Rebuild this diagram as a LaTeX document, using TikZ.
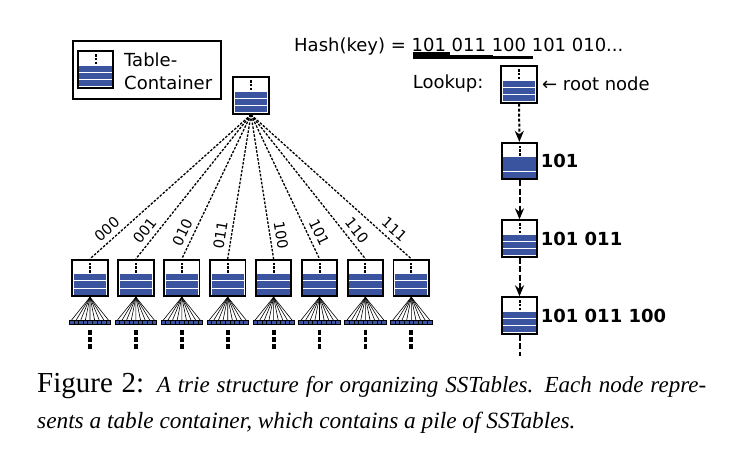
\documentclass[tikz,border=0pt]{standalone}
\usepackage{fontspec}
\setmainfont{DejaVu Sans}
\newfontfamily\capfont{Liberation Serif}
\usepackage{tikz}
\usetikzlibrary{positioning,calc,arrows.meta}

\definecolor{tblue}{RGB}{58,84,160}

\begin{document}
\begin{tikzpicture}[x=1pt,y=-1pt]
        \tikzset{
            tbl/.style={draw, line width=1.8pt, inner sep=0pt, outer sep=0.9pt, minimum width=35.5pt, minimum height=36.5pt, fill=white,
                path picture={
                    \fill[tblue] ([xshift=1.6pt,yshift=-14.5pt]path picture bounding box.north west) rectangle ([xshift=-1.6pt,yshift=1.5pt]path picture bounding box.south east);
                    \foreach \g in {#1} {
                        \draw[white, line width=1.1pt] ([yshift=-\g pt]path picture bounding box.north west) -- ([yshift=-\g pt]path picture bounding box.north east);
                    }
                    \draw[black, line width=2pt, dash pattern=on 2.4pt off 1.3pt] ([yshift=-3pt]path picture bounding box.north) -- ([yshift=-13.6pt]path picture bounding box.north);
                }},
            tbl/.default={21.1,28.3},
            txt/.style={font=\fontsize{18}{23}\selectfont},
            key/.style={font=\fontsize{18}{23}\selectfont\bfseries},
            bits/.style={font=\fontsize{14.5}{14.5}\selectfont, sloped, above=4.5pt, pos=0.85, inner sep=0.3pt},
            branch/.style={line width=1.3pt, dash pattern=on 2.5pt off 1.5pt},
            fan/.style={line width=0.6pt},
            leaf/.style={draw, line width=0.7pt, fill=tblue, inner sep=0pt, outer sep=0pt, minimum width=4.6pt, minimum height=4pt},
            more/.style={line width=3.8pt, dash pattern=on 5.5pt off 1.8pt},
            look/.style={line width=2pt, -{Stealth[length=11pt,width=9pt]}}
        }
        \useasboundingbox (0,0) rectangle (730,458);

        % legend
        \node[draw, line width=1.8pt, minimum width=148pt, minimum height=58pt] (legend) at (147,70) {};
        \node[tbl] (legtbl) at (95.5,69.5) {};
        \node[txt, anchor=west, align=left, inner sep=0pt] (legtxt) at (124,71) {Table-\\Container};

        % trie
        \node[tbl] (root) at (251,95.5) {};
        \foreach \i/\b in {0/000,1/001,2/010,3/011,4/100,5/101,6/110,7/111} {
            \pgfmathsetmacro{\cx}{90+45.9*\i}
            \node[tbl] (c\i) at (\cx,278) {};
            \draw[branch] (root.south) -- (c\i.north) node[bits] {\b};
            \foreach \j in {0,...,8} {
                \node[leaf] (l\i-\j) at (\cx-20.7+4.6*\j+2.3,322) {};
                \draw[fan] (c\i.south) -- (l\i-\j.north);
            }
            \draw[more] (\cx,329.5) -- (\cx,349);
        }

        % lookup path
        \node[txt, anchor=base west, inner sep=0pt] (hash) at (294,51) {Hash(key) = 101 011 100 101 010...};
        \fill (413,58.3) rectangle (450,52.3);
        \fill (413,58.5) rectangle (493,54.5);
        \fill (413,58.7) rectangle (533,56.2);
        \node[txt, anchor=east] (lookup) at (487,84) {Lookup:};
        \node[tbl] (r0) at (519,84.5) {};
        \node[txt, anchor=west, inner sep=0pt] (rootlbl) at (542,84) {← root node};
        \node[tbl=28.3] (r1) at (519.5,161) {};
        \node[tbl] (r2) at (519.5,238.5) {};
        \node[tbl] (r3) at (519.5,315.5) {};
        \node[key, anchor=west, inner sep=1pt] (k1) at ([xshift=1.5pt]r1.east) {101};
        \node[key, anchor=west, inner sep=1pt] (k2) at ([xshift=1.5pt]r2.east) {101 011};
        \node[key, anchor=west, inner sep=1pt] (k3) at ([xshift=1.5pt]r3.east) {101 011 100};
        \coordinate (rend) at (519.5,356);
        \draw[look, dash pattern=on 3pt off 2pt] (r0) -- (r1);
        \draw[look, dash pattern=on 6pt off 2.5pt] (r1) -- (r2);
        \draw[look, dash pattern=on 6pt off 2.5pt] (r2) -- (r3);
        \draw[line width=2pt, dash pattern=on 6pt off 2.5pt] (r3) -- (rend);

        % caption
        \node[anchor=base west, inner sep=0pt] (cap1) at (37,392) {\capfont\makebox[669pt][s]{\fontsize{29}{30}\selectfont Figure 2: \fontsize{23}{28}\selectfont\itshape A trie structure for organizing SSTables. Each node repre-}};
        \node[anchor=base west, inner sep=0pt] (cap2) at (37,428) {\capfont\fontsize{23.3}{28}\selectfont\itshape sents a table container, which contains a pile of SSTables.};
    \end{tikzpicture}
\end{document}
